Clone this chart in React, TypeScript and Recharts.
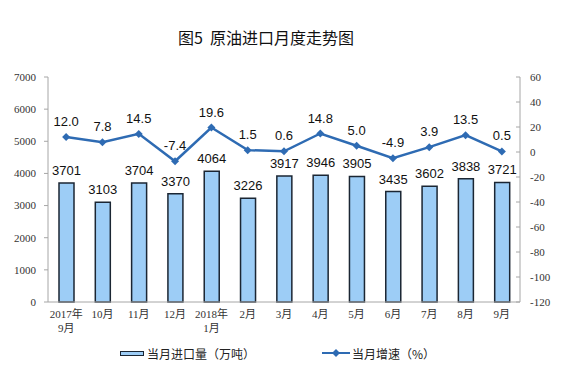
import React from 'react';
import { ComposedChart, Bar, Line, XAxis, YAxis, LabelList } from 'recharts';

const months = ['2017年\n9月', '10月', '11月', '12月', '2018年\n1月', '2月', '3月', '4月', '5月', '6月', '7月', '8月', '9月'];
const volume = [3701, 3103, 3704, 3370, 4064, 3226, 3917, 3946, 3905, 3435, 3602, 3838, 3721];
const growth = [12.0, 7.8, 14.5, -7.4, 19.6, 1.5, 0.6, 14.8, 5.0, -4.9, 3.9, 13.5, 0.5];
const leftTicks = [0, 1000, 2000, 3000, 4000, 5000, 6000, 7000];
const rightTicks = [-120, -100, -80, -60, -40, -20, 0, 20, 40, 60];

const data = months.map((m, i) => ({ month: m, volume: volume[i], growth: growth[i] }));

const TICK_FONT = '"Liberation Serif", "Noto Sans CJK SC", serif';
const LABEL_FONT = '"Liberation Sans", Arial, sans-serif';
const CJK_FONT = '"Noto Sans CJK SC", "Liberation Sans", sans-serif';
const LINE_COLOR = '#2E6BB3';

const XTick = (props: any) => {
  const { x, y, payload } = props;
  const lines = String(payload.value).split('\n');
  return (
    <text x={x} y={y} textAnchor="middle" fontFamily={TICK_FONT} fontSize={11} fill="#333">
      {lines.map((l, i) => (
        <tspan key={i} x={x} dy={i === 0 ? 8 : 14}>{l}</tspan>
      ))}
    </text>
  );
};

const RightTick = (props: any) => {
  const { x, y, payload } = props;
  return (
    <g>
      <line x1={x - 14} x2={x - 10} y1={y} y2={y} stroke="#a6a6a6" />
      <text x={x} y={y} dy={4} textAnchor="start" fontFamily={TICK_FONT} fontSize={11} fill="#333">{payload.value}</text>
    </g>
  );
};

const Diamond = (props: any) => {
  const { cx, cy } = props;
  if (cx == null || cy == null) return null;
  const s = 4;
  return <path d={`M${cx},${cy - s}L${cx + s},${cy}L${cx},${cy + s}L${cx - s},${cy}Z`} fill={LINE_COLOR} />;
};

export default function App() {
  return (
    <div style={{ position: 'absolute', left: 0, top: 0, width: 582, height: 378, background: '#fff' }}>
      <div style={{ position: 'absolute', left: 178, top: 25, fontFamily: CJK_FONT, fontSize: 16, fontWeight: 'normal', color: '#111', whiteSpace: 'nowrap' }}>
        图5&nbsp;&nbsp;原油进口月度走势图
      </div>
      <ComposedChart width={582} height={378} data={data} margin={{ top: 77, right: 0, bottom: 36, left: 0 }}>
        <XAxis dataKey="month" interval={0} tick={<XTick />} tickLine={false} axisLine={{ stroke: '#a6a6a6' }} height={40} />
        <YAxis yAxisId="left" orientation="left" width={48} domain={[0, 7000]} ticks={leftTicks} interval={0}
          tick={{ fontFamily: TICK_FONT, fontSize: 11, fill: '#333' }} tickSize={4} tickMargin={8}
          axisLine={{ stroke: '#a6a6a6' }} tickLine={{ stroke: '#a6a6a6' }} />
        <YAxis yAxisId="right" orientation="right" width={62} domain={[-120, 60]} ticks={rightTicks} interval={0}
          tick={<RightTick />} tickSize={0} tickMargin={10} tickLine={false} axisLine={{ stroke: '#a6a6a6' }} />
        <Bar yAxisId="left" dataKey="volume" barSize={15} fill="#9DCDF6" stroke="#1B2633" strokeWidth={1.5} isAnimationActive={false}>
          <LabelList dataKey="volume" position="top" offset={8} fontFamily={LABEL_FONT} fontSize={13} fill="#111" />
        </Bar>
        <Line yAxisId="right" dataKey="growth" stroke={LINE_COLOR} strokeWidth={2.5} dot={<Diamond />} activeDot={false} isAnimationActive={false}>
          <LabelList dataKey="growth" position="top" offset={11} fontFamily={LABEL_FONT} fontSize={13} fill="#111"
            formatter={(v: any) => Number(v).toFixed(1)} />
        </Line>
      </ComposedChart>
      <div style={{ position: 'absolute', left: 120, top: 351, width: 24, height: 5, background: '#9DCDF6', border: '1px solid #1B2633', boxSizing: 'border-box' }} />
      <div style={{ position: 'absolute', left: 147, top: 345, fontFamily: CJK_FONT, fontSize: 12, color: '#222', whiteSpace: 'nowrap' }}>当月进口量（万吨）</div>
      <svg style={{ position: 'absolute', left: 322, top: 348 }} width={28} height={10}>
        <line x1={0} x2={28} y1={5} y2={5} stroke={LINE_COLOR} strokeWidth={2} />
        <path d="M14,1L18,5L14,9L10,5Z" fill={LINE_COLOR} />
      </svg>
      <div style={{ position: 'absolute', left: 352, top: 345, fontFamily: CJK_FONT, fontSize: 12, color: '#222', whiteSpace: 'nowrap' }}>当月增速（%）</div>
    </div>
  );
}
